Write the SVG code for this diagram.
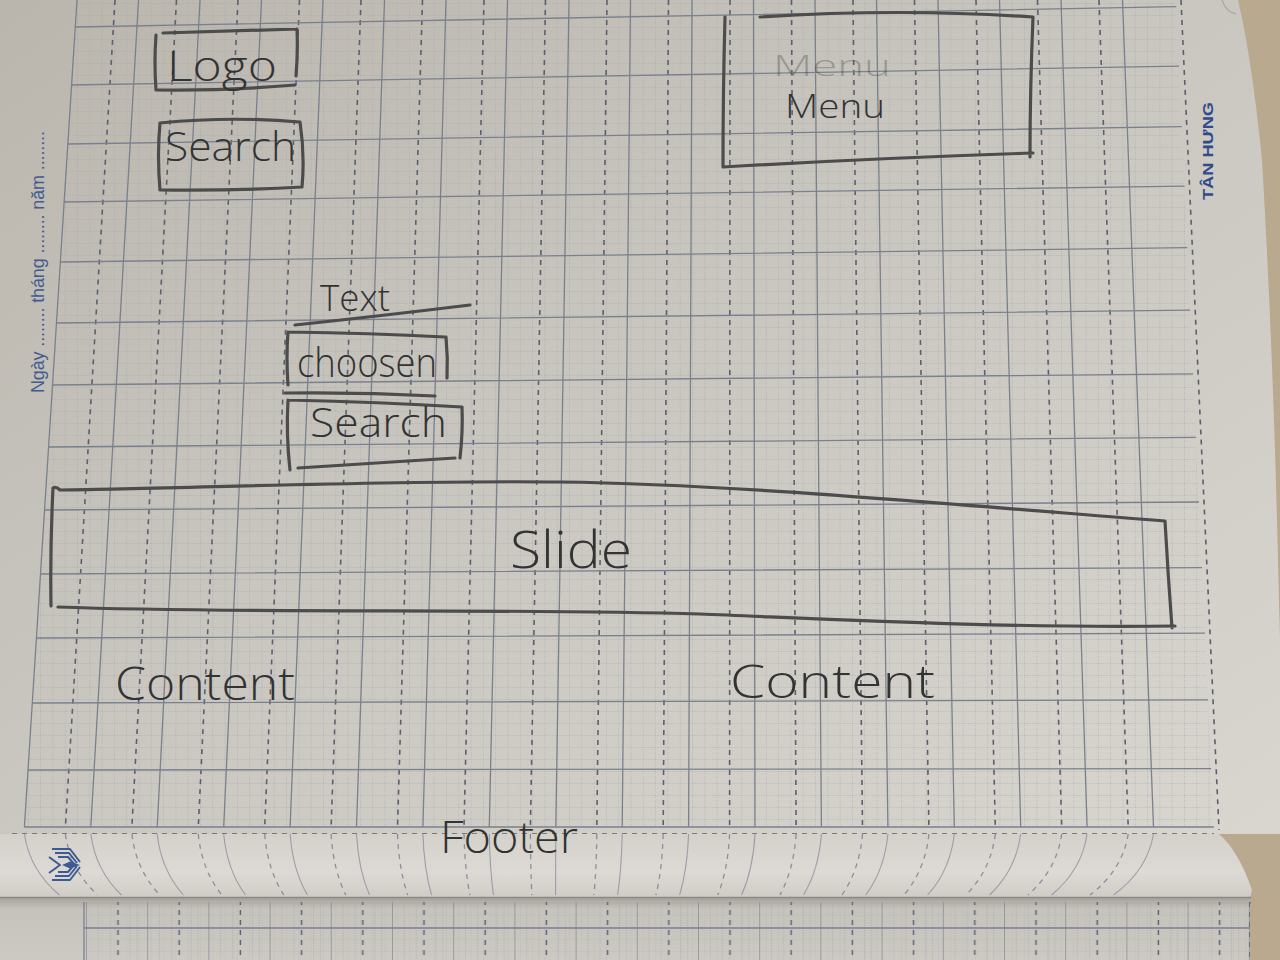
<svg xmlns="http://www.w3.org/2000/svg" width="1280" height="960" viewBox="0 0 1280 960">
<defs>
  <linearGradient id="paper" x1="0" y1="0" x2="1" y2="1">
    <stop offset="0" stop-color="#bab6ae"/>
    <stop offset="0.45" stop-color="#c9c6bf"/>
    <stop offset="1" stop-color="#d9d6d0"/>
  </linearGradient>
  <linearGradient id="curlFill" x1="0" y1="0" x2="0" y2="1">
    <stop offset="0" stop-color="#d4d1cb"/>
    <stop offset="0.6" stop-color="#dddad5"/>
    <stop offset="1" stop-color="#cfccc6"/>
  </linearGradient>
  <linearGradient id="lowerFill" x1="0" y1="0" x2="0" y2="1">
    <stop offset="0" stop-color="#a7a49e"/>
    <stop offset="0.18" stop-color="#c6c3bd"/>
    <stop offset="1" stop-color="#ccc9c3"/>
  </linearGradient>
  <pattern id="minor" width="12.3" height="12" patternUnits="userSpaceOnUse" x="77" y="27">
    <path d="M0 0V12M0 0H12.3" stroke="#9da1aa" stroke-width="0.8" stroke-dasharray="1.3 1.2" fill="none"/>
  </pattern>
  <pattern id="lowerCols" width="61.2" height="10" patternUnits="userSpaceOnUse" x="86" y="0">
    <path d="M0 0V10" stroke="#7d828f" stroke-width="1.3"/>
    <path d="M32 0V5" stroke="#5d6373" stroke-width="1.5"/>
    <path d="M12.2 0V10M24.5 0V10M44 0V10M51 0V10" stroke="#a3a7b0" stroke-width="0.7" stroke-dasharray="1.3 1.2"/>
  </pattern>
  <clipPath id="gridClip"><polygon points="77,0 1175,0 1214,827 24.4,827"/></clipPath>
  <style>
    .maj{stroke:#7a808e;stroke-width:1.3;fill:none}
    .col{stroke:#5b606c;stroke-width:1.6;stroke-dasharray:5 5;fill:none}
    .curlmaj{stroke:#858b98;stroke-width:1.1;fill:none;opacity:0.75}
    .curlcol{stroke:#6a7080;stroke-width:1.3;stroke-dasharray:5 5;fill:none;opacity:0.7}
    .pen{fill:none;stroke:#4c4c4c;stroke-width:3.2;stroke-linecap:round;stroke-linejoin:round}
    .hand{font-family:"Open Sans","Liberation Sans","DejaVu Sans",sans-serif;font-weight:300;fill:#333333}
    .print{font-family:"Liberation Sans","DejaVu Sans",sans-serif;fill:#435c90}
    .icon{fill:none;stroke:#3d5a94;stroke-width:2;stroke-linejoin:round}
  </style>
</defs>

<!-- table surface behind the notebook -->
<rect x="0" y="0" width="1280" height="960" fill="#b9a98e"/>

<!-- upper page -->
<path d="M0 0H1238Q1252 60 1262 160Q1272 330 1277 520L1280 640V834H0Z" fill="url(#paper)"/>
<path d="M1222 0Q1226 12 1236 14" fill="none" stroke="#a9a69f" stroke-width="1.2"/>

<!-- upper page grid -->
<g id="grid">
  <rect x="0" y="0" width="1280" height="827" fill="url(#minor)" clip-path="url(#gridClip)"/>
  <path class="maj" d="M77 0L24.4 827M138.5 0L90.8 827M200 0L157.2 827M261.5 0L223.7 827M323 0L290.1 827M384.5 0L356.5 827M446 0L422.9 827M507.5 0L489.3 827M569 0L555.8 827M630.5 0L622.2 827M692 0L688.6 827M753.5 0L755 827M815 0L821.4 827M876.5 0L887.9 827M938 0L954.3 827M999.5 0L1020.7 827M1061 0L1087.1 827M1122.5 0L1153.5 827"/>
  <path class="col" d="M115 0L65.4 827M176.5 0L131.9 827M238 0L198.3 827M299.5 0L264.7 827M361 0L331.1 827M422.5 0L397.5 827M484 0L464 827M545.5 0L530.4 827M607 0L596.8 827M668.5 0L663.2 827M730 0L729.6 827M791.5 0L796.1 827M853 0L862.5 827M914.5 0L928.9 827M976 0L995.3 827M1037.5 0L1061.7 827M1099 0L1128.2 827"/>
  <path class="maj" d="M75.3 27L1176.3 6.7M71.6 85L1179 66.2M67.8 144L1181.8 126.7M64.2 202L1184.5 186.1M60.3 262L1187.3 247.7M56.5 323L1190.2 310.2M52.5 385L1193.1 373.8M48.6 447L1196 437.4M44.6 510L1199 502M40.5 574L1202 567.6M36.4 638L1205 633.2M32.3 703L1208 699.9M28 770L1211.2 768.6M24.4 827L1213.9 827"/>
  <!-- page frame: dashed border right and bottom -->
  <path class="col" d="M1181 0L1219 830M12 834H1214"/>
</g>

<!-- curled lower edge of the upper page -->
<path d="M0 834H1219Q1238 850 1252 890L1250 898H0Z" fill="url(#curlFill)"/>
<g id="curl-lines" transform="translate(-10 0)">
  <path class="curlmaj" d="M34.4 834Q39.7 870 69.4 895M100.8 834Q105.4 870 131.4 895M167.2 834Q171.1 870 193.4 895M233.7 834Q237 870 255.5 895M300.1 834Q302.7 870 317.5 895M366.5 834Q368.5 870 379.5 895M432.9 834Q434.2 870 441.5 895M499.3 834Q499.9 870 503.5 895M565.8 834Q565.8 870 565.6 895M632.2 834Q631.5 870 627.6 895M698.6 834Q697.3 870 689.6 895M765 834Q763 870 751.5 895M831.4 834Q828.7 870 813.5 895M897.9 834Q894.6 870 875.6 895M964.3 834Q960.3 870 937.6 895M1030.7 834Q1026 870 999.6 895M1097.1 834Q1091.8 870 1061.6 895M1163.5 834Q1157.5 870 1123.6 895"/>
  <path class="curlcol" d="M75.4 834Q80.2 870 107.7 895M141.9 834Q146.1 870 169.8 895M208.3 834Q211.8 870 231.8 895M274.7 834Q277.6 870 293.8 895M341.1 834Q343.3 870 355.8 895M407.5 834Q409 870 417.8 895M474 834Q474.9 870 479.9 895M540.4 834Q540.6 870 541.9 895M606.8 834Q606.4 870 603.9 895M673.2 834Q672.1 870 665.9 895M739.6 834Q737.8 870 727.8 895M806.1 834Q803.7 870 789.9 895M872.5 834Q869.4 870 851.9 895M938.9 834Q935.2 870 913.9 895M1005.3 834Q1000.9 870 975.9 895M1071.7 834Q1066.6 870 1037.9 895M1138.2 834Q1132.5 870 1100 895"/>
</g>

<!-- next page underneath -->
<path d="M0 898H1250V960H0Z" fill="url(#lowerFill)"/>
<g id="lower-grid">
  <rect x="84" y="902" width="1166" height="58" fill="url(#lowerCols)"/>
  <rect x="84" y="902" width="1166" height="58" fill="url(#minor)" opacity="0.6"/>
  <path class="maj" d="M84 928H1250M84 902V960"/>
  <path class="col" d="M1250 902V960"/>
</g>
<path d="M0 897.5H1251" stroke="#8c8983" stroke-width="1.6"/>
<path d="M1250 960V904Q1256 892 1280 888V960Z" fill="#b9a98e"/>

<!-- printed page furniture -->
<text class="print" x="44" y="393" font-size="18" textLength="262" lengthAdjust="spacing" transform="rotate(-90 44 393)">Ngày ........ tháng ........ năm ........</text>
<text x="1213" y="200" font-family="Liberation Sans, DejaVu Sans, sans-serif" font-weight="bold" font-size="15" fill="#2f4b8c" textLength="98" lengthAdjust="spacingAndGlyphs" transform="rotate(-90 1213 200)">TÂN HƯNG</text>
<g id="publisher-mark">
  <path class="icon" d="M52 849H70L80 862M55 853H69L77 863M58 857H68L74 864"/>
  <path class="icon" d="M52 880H70L80 867M55 876H69L77 866M58 872H68L74 865"/>
  <path class="icon" d="M49 857L60 865L49 873"/>
  <path d="M62 865L70 861.5L80 865L70 868.5Z" fill="#3d5a94"/>
</g>

<!-- wireframe sketch -->
<g id="logo">
  <path class="pen" d="M163 33Q230 31 297 29M156 35Q154 62 156 90M156 90Q225 91 295 85M297 29Q298 52 296 76"/>
  <text class="hand" x="167" y="81" font-size="42" textLength="110" lengthAdjust="spacingAndGlyphs">Logo</text>
</g>

<g id="search-top">
  <path class="pen" d="M160 123Q230 116 300 122M160 123Q157 155 160 190M160 190Q230 191 302 187M300 122Q305 155 302 187"/>
  <text class="hand" x="165" y="161" font-size="40" textLength="131" lengthAdjust="spacingAndGlyphs">Search</text>
</g>

<g id="menu">
  <text class="hand" x="773" y="76" font-size="30" fill="#8f8e8a" opacity="0.3" textLength="118" lengthAdjust="spacingAndGlyphs">Menu</text>
  <path class="pen" d="M760 17Q900 8 1033 17M725 17Q723 90 723 167M723 167Q880 158 1033 153M1033 17Q1030 90 1030 157"/>
  <text class="hand" x="785" y="118" font-size="33" textLength="100" lengthAdjust="spacingAndGlyphs">Menu</text>
</g>

<g id="text-label">
  <text class="hand" x="320" y="311" font-size="36" textLength="70" lengthAdjust="spacingAndGlyphs">Text</text>
  <path class="pen" d="M295 325Q380 316 470 305"/>
</g>

<g id="choosen">
  <path class="pen" d="M288 332Q370 333 445 337M288 332Q286 358 288 385M446 337Q448 358 447 378M285 393Q360 392 435 396"/>
  <text class="hand" x="297" y="377" font-size="40" textLength="140" lengthAdjust="spacingAndGlyphs">choosen</text>
</g>

<g id="search-filter">
  <path class="pen" d="M288 400Q380 402 462 407M288 400Q286 435 290 470M462 407Q463 432 460 458M298 468Q380 463 455 458"/>
  <text class="hand" x="310" y="437" font-size="40" textLength="137" lengthAdjust="spacingAndGlyphs">Search</text>
</g>

<g id="slide">
  <path class="pen" d="M53 488Q56 486 60 490C200 488 400 480 560 482C720 484 900 500 1165 521M1165 521Q1168 575 1172 628M58 607C250 614 500 608 700 614C850 620 1000 628 1175 626M53 488Q50 550 51 606"/>
  <text class="hand" x="510" y="568" font-size="52" textLength="122" lengthAdjust="spacingAndGlyphs">Slide</text>
</g>

<g id="content-left">
  <text class="hand" x="115" y="700" font-size="46" textLength="180" lengthAdjust="spacingAndGlyphs">Content</text>
</g>

<g id="content-right">
  <text class="hand" x="730" y="698" font-size="46" textLength="205" lengthAdjust="spacingAndGlyphs">Content</text>
</g>

<g id="footer">
  <text class="hand" x="440" y="853" font-size="44" textLength="138" lengthAdjust="spacingAndGlyphs">Footer</text>
</g>
</svg>
